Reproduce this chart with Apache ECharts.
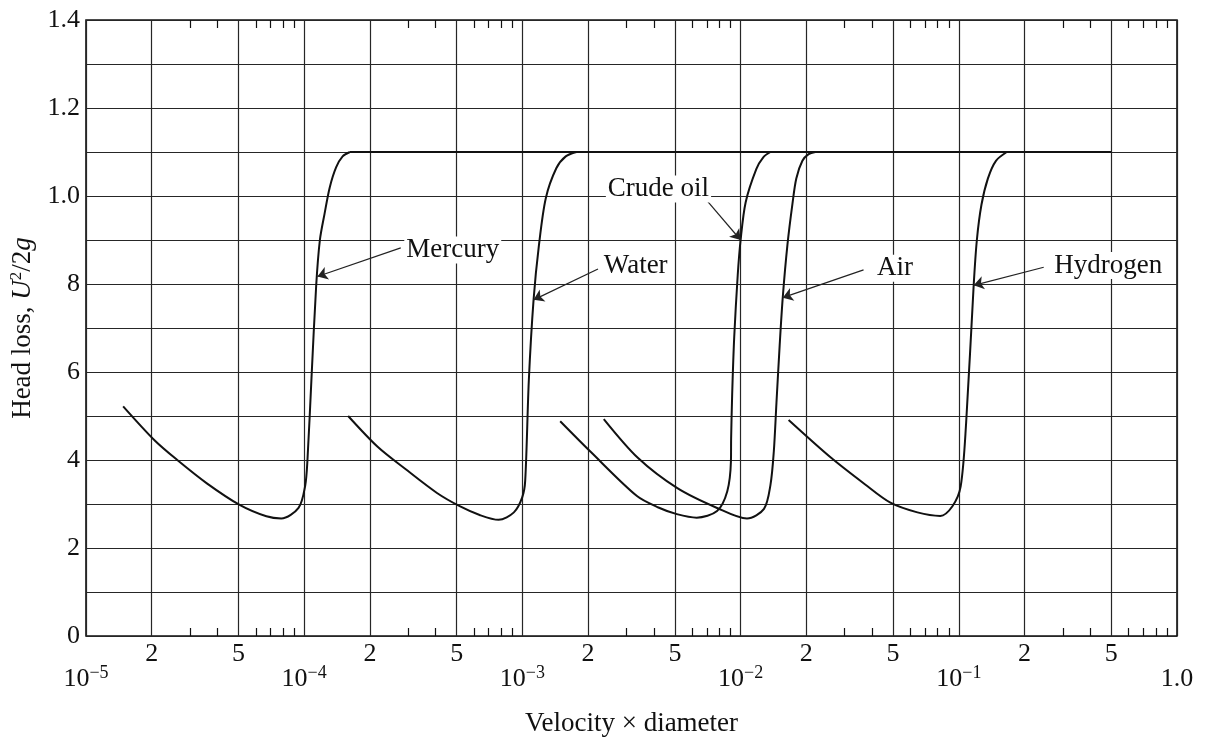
<!DOCTYPE html>
<html>
<head>
<meta charset="utf-8">
<title>Head loss vs velocity x diameter</title>
<script src="https://cdn.jsdelivr.net/npm/echarts@6/dist/echarts.min.js"></script>
<style>
html, body { margin: 0; padding: 0; background: #fff; }
#chart { width: 1210px; height: 747px; }
</style>
</head>
<body>
<div id="chart"></div>
<script>
// values (x = velocity x diameter, y = head loss in U^2/2g)
var mercuryX = [1.48e-5, 2.06e-5, 2.62e-5, 3.58e-5, 5.06e-5, 6.71e-5, 7.85e-5, 9.42e-5, 1.01e-4, 1.035e-4, 1.08e-4, 1.135e-4, 1.18e-4, 1.24e-4, 1.31e-4, 1.40e-4, 1.50e-4, 1.62e-4];
var mercuryY = [0.522, 0.445, 0.40, 0.347, 0.298, 0.272, 0.267, 0.291, 0.341, 0.40, 0.586, 0.797, 0.90, 0.96, 1.02, 1.065, 1.09, 1.10];

var waterX = [1.59e-4, 2.17e-4, 2.90e-4, 4.06e-4, 5.16e-4, 6.37e-4, 7.78e-4, 9.14e-4, 9.98e-4, 1.03e-3, 1.07e-3, 1.125e-3, 1.19e-3, 1.28e-3, 1.43e-3, 1.58e-3, 1.77e-3];
var waterY = [0.50, 0.43, 0.38, 0.325, 0.295, 0.275, 0.264, 0.281, 0.315, 0.353, 0.580, 0.764, 0.887, 0.995, 1.063, 1.09, 1.10];

var crudeX = [1.49e-3, 2.06e-3, 3.35e-3, 4.20e-3, 5.10e-3, 6.29e-3, 7.80e-3, 8.69e-3, 9.03e-3, 9.05e-3, 9.15e-3, 9.35e-3, 9.70e-3, 1.0e-2, 1.055e-2, 1.18e-2, 1.27e-2, 1.37e-2];
var crudeY = [0.488, 0.418, 0.318, 0.292, 0.277, 0.269, 0.284, 0.329, 0.397, 0.45, 0.55, 0.68, 0.82, 0.90, 0.986, 1.061, 1.088, 1.10];

var airX = [2.36e-3, 3.38e-3, 5.13e-3, 7.80e-3, 1.07e-2, 1.28e-2, 1.37e-2, 1.42e-2, 1.46e-2, 1.51e-2, 1.56e-2, 1.64e-2, 1.73e-2, 1.80e-2, 1.92e-2, 2.05e-2, 2.20e-2];
var airY = [0.493, 0.405, 0.336, 0.291, 0.267, 0.289, 0.343, 0.42, 0.53, 0.66, 0.769, 0.89, 0.984, 1.04, 1.08, 1.095, 1.10];

var hydrogenX = [1.66e-2, 2.60e-2, 3.71e-2, 4.86e-2, 6.46e-2, 8.22e-2, 9.35e-2, 0.102, 0.108, 0.117, 0.121, 0.127, 0.136, 0.148, 0.166];
var hydrogenY = [0.491, 0.405, 0.345, 0.303, 0.281, 0.273, 0.295, 0.340, 0.483, 0.797, 0.90, 0.98, 1.04, 1.08, 1.10];

// common turbulent plateau
var plateauX = [1.62e-4, 0.5];
var plateauY = [1.10, 1.10];

// labels and leader arrows
var annText = ['Mercury', 'Water', 'Crude oil', 'Air', 'Hydrogen'];
var annTextX = [2.86e-4, 2.30e-3, 2.40e-3, 4.11e-2, 0.267];
var annTextY = [0.877, 0.841, 1.016, 0.836, 0.842];
var annFromX = [2.77e-4, 2.22e-3, 7.06e-3, 3.66e-2, 0.245];
var annFromY = [0.882, 0.834, 0.988, 0.832, 0.838];
var annTipX = [1.15e-4, 1.125e-3, 1.0e-2, 1.56e-2, 0.117];
var annTipY = [0.817, 0.764, 0.90, 0.769, 0.797];

// axes
var xMajorTicks = [1e-5, 1e-4, 1e-3, 1e-2, 1e-1, 1];
var xMajorLabels = ['10^−5', '10^−4', '10^−3', '10^−2', '10^−1', '1.0'];
var xMidTicks = [2e-5, 5e-5, 2e-4, 5e-4, 2e-3, 5e-3, 2e-2, 5e-2, 0.2, 0.5];
var xMidLabels = ['2', '5', '2', '5', '2', '5', '2', '5', '2', '5'];
var xMinorTicks = [3e-5, 4e-5, 6e-5, 7e-5, 8e-5, 9e-5,
	3e-4, 4e-4, 6e-4, 7e-4, 8e-4, 9e-4,
	3e-3, 4e-3, 6e-3, 7e-3, 8e-3, 9e-3,
	3e-2, 4e-2, 6e-2, 7e-2, 8e-2, 9e-2,
	0.3, 0.4, 0.6, 0.7, 0.8, 0.9];
var yLabelValues = [0, 0.2, 0.4, 0.6, 0.8, 1.0, 1.2, 1.4];
var yLabelText = ['0', '2', '4', '6', '8', '1.0', '1.2', '1.4'];

var serif = '"Liberation Serif", "DejaVu Serif", serif';
var ink = '#111';

function lg(v) {
	return Math.round(Math.log10(v) * 1e9) / 1e9;
}

function toPoints(xs, ys) {
	return xs.map(function (x, i) { return [lg(x), ys[i]]; });
}

function findLabel(values, labels, v) {
	for (var i = 0; i < values.length; i++) {
		if (Math.abs(values[i] - v) < 1e-6) return labels[i];
	}
	return '';
}

function curve(name, xs, ys) {
	return {
		name: name,
		type: 'line',
		data: toPoints(xs, ys),
		showSymbol: false,
		smooth: 0.3,
		silent: true,
		lineStyle: { color: ink, width: 2 },
		z: 3
	};
}

function initChartOption() {
	var gridLine = { show: true, lineStyle: { color: '#262626', width: 1.2 } };
	var xAxisBase = { type: 'value', min: -5, max: 0, gridIndex: 0 };

	return {
		animation: false,
		backgroundColor: '#fff',
		grid: {
			left: 86,
			right: 33,
			top: 20,
			bottom: 111,
			show: true,
			borderColor: ink,
			borderWidth: 1.6
		},
		xAxis: [
			// grid lines at 1, 2, 5 of each decade, labels "2" and "5"
			Object.assign({}, xAxisBase, {
				position: 'bottom',
				name: 'Velocity × diameter',
				nameLocation: 'middle',
				nameGap: 74,
				nameTextStyle: { fontFamily: serif, fontSize: 27, color: ink },
				axisLine: { show: false },
				axisTick: { show: false, customValues: xMajorTicks.concat(xMidTicks).map(lg) },
				splitLine: gridLine,
				axisLabel: {
					customValues: xMidTicks.map(lg),
					margin: 5,
					fontFamily: serif,
					fontSize: 26,
					color: ink,
					formatter: function (v) {
						return findLabel(xMidTicks.map(lg), xMidLabels, v);
					}
				}
			}),
			// minor ticks along the top
			Object.assign({}, xAxisBase, {
				position: 'top',
				axisLine: { show: false },
				axisTick: { show: true, inside: true, length: 8, customValues: xMinorTicks.map(lg), lineStyle: { color: ink, width: 1.2 } },
				splitLine: { show: false },
				axisLabel: { show: false }
			}),
			// minor ticks along the bottom, decade labels on a second row
			Object.assign({}, xAxisBase, {
				position: 'bottom',
				axisLine: { show: false },
				axisTick: { show: true, inside: true, length: 8, customValues: xMinorTicks.map(lg), lineStyle: { color: ink, width: 1.2 } },
				splitLine: { show: false },
				axisLabel: {
					customValues: xMajorTicks.map(lg),
					margin: 28,
					color: ink,
					formatter: function (v) {
						var t = findLabel(xMajorTicks.map(lg), xMajorLabels, v);
						var parts = t.split('^');
						if (parts.length === 2) {
							return '{b|' + parts[0] + '}{s|' + parts[1] + '}';
						}
						return '{b|' + t + '}';
					},
					rich: {
						b: { fontFamily: serif, fontSize: 26, color: ink, lineHeight: 30 },
						s: { fontFamily: serif, fontSize: 18, color: ink, verticalAlign: 'top', lineHeight: 18 }
					}
				}
			})
		],
		yAxis: [{
			type: 'value',
			min: 0,
			max: 1.4,
			interval: 0.1,
			name: 'Head loss, {i|U}{s|2}/2{i|g}',
			nameLocation: 'middle',
			nameGap: 38,
			nameTextStyle: {
				fontFamily: serif,
				fontSize: 27,
				color: ink,
				rich: {
					i: { fontFamily: serif, fontSize: 27, fontStyle: 'italic', color: ink, lineHeight: 30 },
					s: { fontFamily: serif, fontSize: 17, color: ink, verticalAlign: 'top', lineHeight: 18 }
				}
			},
			axisLine: { show: false },
			axisTick: { show: false },
			splitLine: gridLine,
			axisLabel: {
				customValues: yLabelValues,
				margin: 6,
				fontFamily: serif,
				fontSize: 26,
				color: ink,
				formatter: function (v) {
					return findLabel(yLabelValues, yLabelText, v);
				}
			}
		}],
		series: [
			curve('Mercury', mercuryX, mercuryY),
			curve('Water', waterX, waterY),
			curve('Crude oil', crudeX, crudeY),
			curve('Air', airX, airY),
			curve('Hydrogen', hydrogenX, hydrogenY),
			{
				name: 'plateau',
				type: 'line',
				data: toPoints(plateauX, plateauY),
				showSymbol: false,
				silent: true,
				lineStyle: { color: ink, width: 2.2 },
				z: 3
			},
			{
				name: 'labels',
				type: 'scatter',
				symbolSize: 1,
				silent: true,
				itemStyle: { color: '#fff', opacity: 1 },
				data: annText.map(function (t, i) {
					return { name: t, value: [lg(annTextX[i]), annTextY[i]] };
				}),
				label: {
					show: true,
					position: 'right',
					distance: 0,
					formatter: '{b}',
					fontFamily: serif,
					fontSize: 27,
					color: ink,
					opacity: 1,
					textBorderWidth: 0,
					backgroundColor: '#fff',
					padding: [0, 2]
				},
				markLine: {
					silent: true,
					symbol: ['none', 'arrow'],
					symbolSize: 10,
					label: { show: false },
					lineStyle: { color: '#222', width: 1.2, type: 'solid', opacity: 1 },
					data: annText.map(function (t, i) {
						return [
							{ coord: [lg(annFromX[i]), annFromY[i]] },
							{ coord: [lg(annTipX[i]), annTipY[i]] }
						];
					})
				},
				z: 5
			}
		]
	};
}

var chart = echarts.init(document.getElementById('chart'));
chart.setOption(initChartOption());
</script>
</body>
</html>
